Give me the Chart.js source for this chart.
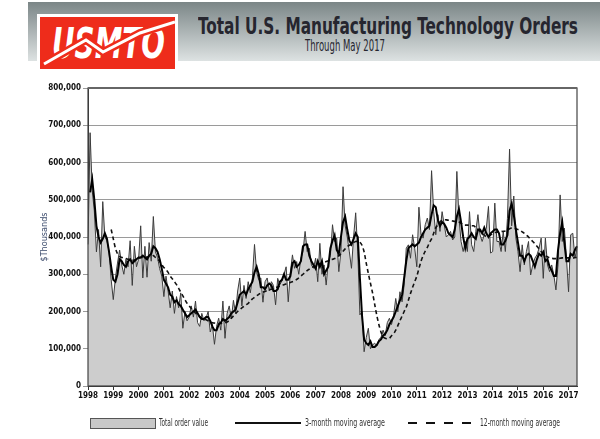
<!DOCTYPE html>
<html lang="en">
  <head>
    <meta charset="UTF-8" />
    <title>Total U.S. Manufacturing Technology Orders</title>
  </head>
  <style>
    * {
      margin: 0;
      padding: 0;
    }
    body {
      width: 600px;
      height: 439px;
      background: white;
      position: relative;
      overflow: hidden;
      font-family: "Liberation Sans Narrow", "DejaVu Sans Condensed", "Liberation Sans", sans-serif;
    }
    #banner {
      position: absolute;
      left: 28px;
      top: 2px;
      width: 572px;
      height: 59px;
      background: linear-gradient(to bottom, #7b8687, #dde2e2);
    }
    #logoFrame {
      position: absolute;
      left: 37px;
      top: 14px;
      width: 141px;
      height: 56px;
      background: white;
    }
    #logoRed {
      position: absolute;
      left: 40px;
      top: 17px;
      width: 135px;
      height: 52px;
      background: #ee2c1b;
      overflow: hidden;
    }
    .fit {
      position: absolute;
      white-space: nowrap;
      transform-origin: left top;
      line-height: 1;
    }
    #logoText {
      left: 12px;
      top: 6px;
      font-size: 42px;
      font-weight: bold;
      font-style: italic;
      color: white;
    }
    #title {
      left: 198px;
      top: 15px;
      font-size: 23px;
      font-weight: bold;
      color: #26262f;
    }
    #sub {
      left: 305px;
      top: 39px;
      font-size: 15px;
      color: #26262f;
    }
    #chartBox {
      position: absolute;
      left: 0;
      top: 0;
    }
    .lg {
      font-size: 10px;
      color: #333;
      top: 418px;
    }
    .sw {
      position: absolute;
    }
  </style>
  <body>
    <div id="banner"></div>
    <div id="logoFrame"></div>
    <div id="logoRed">
      <div id="logoText" class="fit" data-w="113">USMTO</div>
      <svg width="135" height="52" style="position:absolute;left:0;top:0">
        <polyline points="4,47 46,23 63,35 100,16 135,5" fill="none" stroke="#ee2c1b" stroke-width="8" />
        <polyline points="4,47 46,23 63,35 100,16 135,5" fill="none" stroke="white" stroke-width="3" />
      </svg>
    </div>
    <div id="title" class="fit" data-w="380">Total U.S. Manufacturing Technology Orders</div>
    <div id="sub" class="fit" data-w="80">Through May 2017</div>

    <canvas id="chartBox" width="600" height="439"></canvas>

    <!-- legend -->
    <div class="sw" style="left:90px;top:418px;width:64px;height:9px;background:#c8c8c8;border:1px solid #555"></div>
    <div class="fit lg" data-w="49" style="left:159px">Total order value</div>
    <svg class="sw" style="left:235px;top:418px" width="66" height="10">
      <line x1="0" y1="5" x2="66" y2="5" stroke="#111" stroke-width="2" />
    </svg>
    <div class="fit lg" data-w="80" style="left:305px">3-month moving average</div>
    <svg class="sw" style="left:408px;top:418px" width="68" height="10">
      <line x1="0" y1="5" x2="68" y2="5" stroke="#111" stroke-width="2" stroke-dasharray="9 9" />
    </svg>
    <div class="fit lg" data-w="80" style="left:480px">12-month moving average</div>

    <script src="https://cdn.jsdelivr.net/npm/chart.js"></script>

    <script>
      // data block ($ thousands, monthly, Jan 1998 - May 2017)
      const years = ["1998", "1999", "2000", "2001", "2002", "2003", "2004", "2005", "2006", "2007",
        "2008", "2009", "2010", "2011", "2012", "2013", "2014", "2015", "2016", "2017"];

      const totalOrders = [
        380, 680, 525, 470, 360, 420, 320, 495, 400, 390, 360, 285,
        232, 290, 330, 365, 325, 300, 340, 320, 390, 270, 375, 320,
        340, 430, 290, 375, 292, 385, 335, 455, 360, 345, 315, 295,
        240, 295, 255, 210, 255, 195, 240, 210, 250, 155, 200, 175,
        185, 215, 185, 228, 170, 160, 195, 175, 182, 200, 145, 165,
        112, 160, 182, 150, 228, 128, 195, 215, 180, 230, 195, 255,
        290, 215, 270, 235, 280, 250, 290, 380, 305, 285, 290, 225,
        280, 290, 255, 280, 270, 218, 289, 272, 282, 300, 320, 226,
        305, 352, 316, 334, 300, 343, 361, 415, 361, 370, 325, 316,
        343, 280, 383, 300, 325, 271, 334, 350, 433, 388, 397, 307,
        361, 535, 430, 400, 360, 316, 400, 465, 360, 191, 200, 92,
        130, 155, 100, 110, 115, 108, 125, 130, 150, 135, 170, 182,
        165, 190, 235, 199, 253, 226, 271, 370, 379, 343, 406, 370,
        320, 480, 406, 397, 433, 451, 420, 578, 468, 406, 460, 415,
        468, 433, 400, 406, 415, 392, 400, 576, 451, 388, 361, 388,
        361, 468, 379, 361, 415, 460, 406, 388, 406, 424, 482, 357,
        361, 491, 388, 388, 361, 415, 361, 450, 636, 430, 510, 397,
        361, 307, 379, 325, 361, 388, 298, 325, 343, 352, 370, 397,
        289, 397, 325, 307, 325, 298, 258, 325, 513, 388, 424, 343,
        253, 406, 410, 343, 370
      ];

      const avg3 = [
        null, 520, 555, 500, 430, 400, 385, 395, 410, 395, 360, 320,
        285, 280, 300, 340, 335, 325, 320, 335, 340, 330, 335, 340,
        345, 345, 350, 345, 340, 350, 355, 375, 370, 360, 340, 315,
        285, 275, 265, 245, 240, 225, 230, 220, 215, 205, 195, 185,
        190, 195, 200, 205, 195, 185, 180, 180, 185, 185, 175, 160,
        150, 150, 165, 170, 180, 175, 180, 185, 195, 200, 205, 225,
        245, 250, 255, 245, 260, 270, 280, 305, 320, 300, 265, 265,
        260, 270, 275, 270, 255, 255, 260, 280, 285, 300, 285, 285,
        295, 330, 335, 320, 325, 335, 375, 380, 380, 350, 335, 325,
        315, 335, 320, 335, 300, 310, 320, 370, 390, 405, 365, 355,
        400, 440, 455, 420, 390, 380, 395, 410, 400, 290, 190, 125,
        115, 110, 120, 105, 105, 110, 120, 125, 135, 140, 150, 165,
        175, 185, 200, 215, 230, 245, 290, 335, 370, 375, 380, 375,
        380, 385, 400, 410, 420, 425, 430, 460, 485, 480, 445, 430,
        440, 435, 425, 410, 405, 400, 420, 455, 475, 440, 400, 370,
        395, 400, 410, 400, 395, 420, 420, 410, 425, 410, 400, 410,
        415, 420, 420, 410, 380, 380, 390, 405, 470, 490, 460, 420,
        385, 350, 350, 335, 350, 355, 350, 335, 320, 340, 355, 350,
        360, 335, 340, 320, 310, 295, 295, 365, 410, 440, 385, 335,
        335, 355, 350, 365, 375
      ];

      const avg12 = [
        null, null, null, null, null, null, null, null, null, null, null, 420,
        395, 370, 355, 348, 345, 345, 342, 340, 340, 338, 338, 340,
        342, 345, 345, 346, 346, 348, 348, 350, 345, 340, 335, 325,
        318, 312, 305, 295, 288, 280, 272, 262, 252, 242, 232, 222,
        215, 208, 202, 196, 190, 186, 183, 180, 178, 175, 172, 170,
        169, 168, 168, 168, 169, 170, 172, 176, 182, 188, 194, 200,
        205, 210, 214, 218, 222, 228, 234, 238, 242, 246, 250, 252,
        254, 256, 258, 260, 262, 264, 266, 268, 270, 272, 274, 276,
        278, 280, 282, 286, 290, 295, 300, 305, 310, 314, 318, 320,
        322, 325, 328, 330, 332, 334, 336, 338, 340, 342, 345, 350,
        355, 362, 368, 374, 378, 380, 385, 388, 388, 386, 378, 360,
        330, 302, 276, 250, 220, 190, 165, 145, 132, 128, 127, 128,
        135, 140, 150, 162, 175, 188, 200, 212, 230, 248, 265, 280,
        295, 315, 335, 350, 362, 372, 385, 395, 410, 425, 433, 440,
        445, 446, 446, 445, 444, 443, 442, 442, 440, 437, 433, 432,
        432, 431, 430, 430, 425, 420, 415, 410, 405, 401, 402, 405,
        410, 412, 413, 414, 415, 415, 416, 418, 422, 424, 424, 422,
        420, 418, 414, 410, 405, 400, 394, 388, 382, 375, 368, 361,
        355, 350, 347, 344, 343, 342, 342, 342, 343, 344, 344, 344,
        344, 344, 343, 345, 345
      ];

      // one category per month, labelled by year
      const months = [];
      years.forEach((y) => {
        for (let m = 1; m <= 12; m++) months.push(y + "-" + m);
      });
      months.length = totalOrders.length;

      const axisFont = "'Liberation Sans Narrow', 'DejaVu Sans Condensed', 'Liberation Sans', sans-serif";

      // frame round the plot area
      const plotFrame = {
        id: "plotFrame",
        afterDatasetsDraw(chart) {
          const { ctx, chartArea: { left, top, width, height } } = chart;
          ctx.save();
          ctx.strokeStyle = "#444";
          ctx.lineWidth = 1.2;
          ctx.strokeRect(left, top, width, height);
          ctx.strokeStyle = "#666";
          ctx.lineWidth = 2;
          ctx.beginPath();
          ctx.moveTo(left, top);
          ctx.lineTo(left + width, top);
          ctx.stroke();
          ctx.restore();
        }
      };

      const config = {
        type: "line",
        data: {
          labels: months,
          datasets: [
            {
              label: "Total order value",
              data: totalOrders,
              borderColor: "#3c3c3c",
              borderWidth: 1,
              backgroundColor: "#cdcdcd",
              fill: "origin",
              pointRadius: 0,
              tension: 0,
              order: 3
            },
            {
              label: "12-month moving average",
              data: avg12,
              borderColor: "#111",
              borderWidth: 1.6,
              borderDash: [4, 3],
              fill: false,
              pointRadius: 0,
              tension: 0.3,
              order: 2
            },
            {
              label: "3-month moving average",
              data: avg3,
              borderColor: "#000",
              borderWidth: 2,
              fill: false,
              pointRadius: 0,
              tension: 0,
              order: 1
            }
          ]
        },
        options: {
          responsive: false,
          animation: false,
          devicePixelRatio: 1,
          layout: { padding: { top: 88, left: 38, right: 23, bottom: 37 } },
          plugins: {
            legend: { display: false },
            tooltip: { enabled: false }
          },
          scales: {
            x: {
              type: "category",
              offset: false,
              afterFit(scale) {
                scale.height = 16;
              },
              grid: {
                drawOnChartArea: false,
                drawTicks: true,
                tickLength: 4,
                color: "#333"
              },
              border: { display: true, color: "#333" },
              ticks: {
                autoSkip: false,
                maxRotation: 0,
                padding: 1,
                color: "#111",
                font: { family: axisFont, size: 8, weight: "bold" },
                callback: (v, i) => (i % 12 === 0 ? years[i / 12] : null)
              }
            },
            y: {
              min: 0,
              max: 800,
              afterFit(scale) {
                scale.width = 50;
              },
              grid: {
                color: "#9a9a9a",
                lineWidth: 1,
                drawTicks: true,
                tickLength: 5
              },
              border: { display: true, color: "#333" },
              title: {
                display: true,
                text: "$Thousands",
                color: "#3b4a6b",
                padding: 1,
                font: { family: axisFont, size: 9 }
              },
              ticks: {
                stepSize: 100,
                padding: 2,
                color: "#111",
                font: { family: axisFont, size: 8, weight: "bold" },
                callback: (v) => (v === 0 ? "0" : (v * 1000).toLocaleString("en-US"))
              }
            }
          }
        },
        plugins: [plotFrame]
      };

      const myChart = new Chart(document.getElementById("chartBox"), config);

      // squeeze header / legend text to the widths in the reference
      document.querySelectorAll(".fit").forEach((el) => {
        const w = el.getBoundingClientRect().width;
        el.style.transform = `scaleX(${el.dataset.w / w})`;
      });
    </script>
  </body>
</html>
